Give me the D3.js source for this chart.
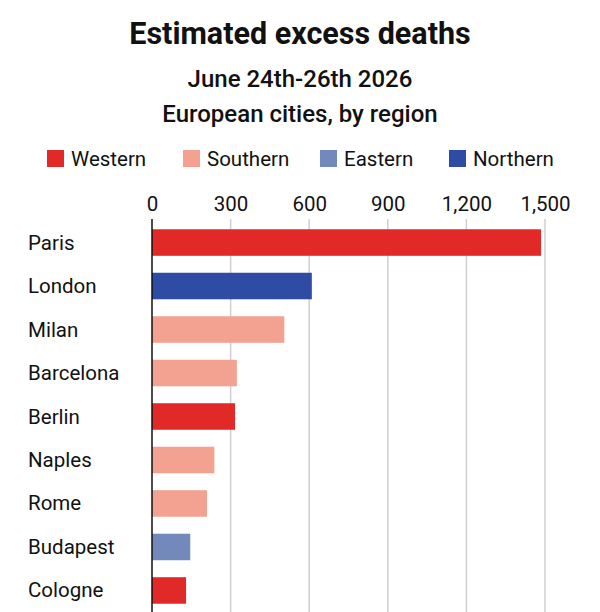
<!DOCTYPE html>
<html><head><meta charset="utf-8">
<script src="https://cdn.jsdelivr.net/npm/d3@7"></script>
<style>body{margin:0;background:#fff}</style>
</head><body>
<svg id="c" width="600" height="612"></svg>
<script>
const cities = ["Paris","London","Milan","Barcelona","Berlin","Naples","Rome","Budapest","Cologne"];
const values = [1485, 610, 505, 324, 317, 238, 210, 146, 130];
const regionOf = ["Western","Northern","Southern","Southern","Western","Southern","Southern","Eastern","Western"];
const regions = ["Western","Southern","Eastern","Northern"];
const regionColors = ["#e12a27","#f3a291","#7389bc","#2e4ca4"];
const tickValues = [0,300,600,900,1200,1500];

const svg = d3.select("#c");
const font = "Roboto, 'Liberation Sans', sans-serif";
const color = d3.scaleOrdinal().domain(regions).range(regionColors);

svg.append("text").attr("x",300).attr("y",44).attr("text-anchor","middle")
  .attr("font-family",font).attr("font-weight","bold").attr("font-size",30.5).attr("fill","#111")
  .text("Estimated excess deaths");
svg.append("text").attr("x",300).attr("y",87).attr("text-anchor","middle")
  .attr("font-family",font).attr("font-size",24).attr("font-weight",500).attr("fill","#111")
  .text("June 24th-26th 2026");
svg.append("text").attr("x",300).attr("y",122).attr("text-anchor","middle")
  .attr("font-family",font).attr("font-size",24).attr("font-weight",500).attr("fill","#111")
  .text("European cities, by region");

// legend
const legX = [47, 183, 320, 449];
const leg = svg.append("g");
regions.forEach((r,i)=>{
  const g = leg.append("g").attr("transform",`translate(${legX[i]},150)`);
  g.append("rect").attr("width",17).attr("height",17).attr("fill",color(r));
  g.append("text").attr("x",24).attr("y",16).attr("font-family",font).attr("font-size",20.5)
    .attr("fill","#111").text(r);
});

const x = d3.scaleLinear().domain([0,1500]).range([152,545]);
const y = d3.scaleBand().domain(cities).range([221,612]).paddingInner(0.39).paddingOuter(0.19);

// gridlines
svg.append("g").selectAll("line").data(tickValues.slice(1)).join("line")
  .attr("x1",d=>x(d)).attr("x2",d=>x(d)).attr("y1",219).attr("y2",612)
  .attr("stroke","#cfcfcf").attr("stroke-width",1.5);

// top axis labels
const ax = svg.append("g").attr("transform","translate(0,214)")
  .call(d3.axisTop(x).tickValues(tickValues).tickSize(0).tickFormat(d3.format(",")));
ax.select(".domain").remove();
ax.selectAll("text").attr("font-family",font).attr("font-size",20.5).attr("fill","#111");

// bars
svg.append("g").selectAll("rect").data(cities).join("rect")
  .attr("x",x(0)).attr("y",d=>y(d))
  .attr("width",(d,i)=>x(values[i])-x(0)).attr("height",y.bandwidth())
  .attr("fill",(d,i)=>color(regionOf[i]));

// zero line
svg.append("line").attr("x1",x(0)).attr("x2",x(0)).attr("y1",219).attr("y2",612)
  .attr("stroke","#111").attr("stroke-width",1.5);

// category labels
svg.append("g").selectAll("text").data(cities).join("text")
  .attr("x",28).attr("y",d=>y(d)+y.bandwidth()/2+7)
  .attr("font-family",font).attr("font-size",20.5).attr("fill","#111").text(d=>d);
</script>
</body></html>
